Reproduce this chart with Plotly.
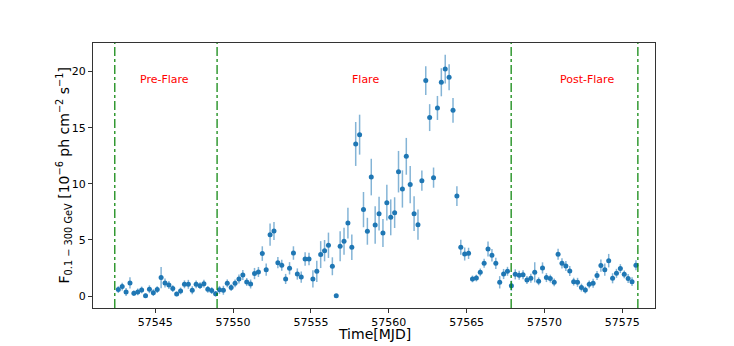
import plotly.graph_objects as go

# light curve, 6 h bins (MJD centres)
time_mjd = [
    57542.625, 57542.875,
    57543.125, 57543.375, 57543.625, 57543.875,
    57544.125, 57544.375, 57544.625, 57544.875,
    57545.125, 57545.375, 57545.625, 57545.875,
    57546.125, 57546.375, 57546.625, 57546.875,
    57547.125, 57547.375, 57547.625, 57547.875,
    57548.125, 57548.375, 57548.625, 57548.875,
    57549.125, 57549.375, 57549.625, 57549.875,
    57550.125, 57550.375, 57550.625, 57550.875,
    57551.125, 57551.375, 57551.625, 57551.875,
    57552.125, 57552.375, 57552.625, 57552.875,
    57553.125, 57553.375, 57553.625, 57553.875,
    57554.125, 57554.375, 57554.625, 57554.875,
    57555.125, 57555.375, 57555.625, 57555.875,
    57556.125, 57556.375, 57556.625, 57556.875,
    57557.125, 57557.375, 57557.625, 57557.875,
    57558.125, 57558.375, 57558.625, 57558.875,
    57559.125, 57559.375, 57559.625, 57559.875,
    57560.125, 57560.375, 57560.625, 57560.875,
    57561.125, 57561.375, 57561.625, 57561.875,
    57562.125, 57562.375, 57562.625, 57562.875,
    57563.125, 57563.375, 57563.625, 57563.875,
    57564.125, 57564.375, 57564.625, 57564.875,
    57565.125, 57565.375, 57565.625, 57565.875,
    57566.125, 57566.375, 57566.625, 57566.875,
    57567.125, 57567.375, 57567.625, 57567.875,
    57568.125, 57568.375, 57568.625, 57568.875,
    57569.125, 57569.375, 57569.625, 57569.875,
    57570.125, 57570.375, 57570.625, 57570.875,
    57571.125, 57571.375, 57571.625, 57571.875,
    57572.125, 57572.375, 57572.625, 57572.875,
    57573.125, 57573.375, 57573.625, 57573.875,
    57574.125, 57574.375, 57574.625, 57574.875,
    57575.125, 57575.375, 57575.625, 57575.875,
]

flux = [
    0.57, 0.84, 0.36, 1.16, 0.24, 0.36, 0.54, 0.03, 0.60, 0.30,
    0.57, 1.64, 1.16, 0.98, 0.66, 0.18, 0.45, 1.04, 1.04, 0.51,
    1.04, 0.92, 1.10, 0.60, 0.48, 0.20, 0.55, 0.51, 1.13, 0.75,
    1.13, 1.52, 1.87, 1.25, 1.07, 2.00, 2.14, 3.78, 2.35, 5.47,
    5.80, 2.97, 2.74, 1.52, 2.47, 3.83, 1.96, 1.69, 3.30, 3.30,
    1.52, 2.20, 3.69, 4.04, 4.52, 2.65, 0.03, 4.43, 4.88, 6.50,
    4.34, 13.55, 14.38, 7.70, 5.77, 10.60, 6.33, 7.34, 5.62, 8.32,
    7.01, 7.43, 11.08, 9.54, 12.45, 9.93, 7.34, 6.36, 10.28, 19.20,
    15.90, 10.55, 16.76, 19.05, 20.23, 19.49, 16.55, 8.91, 4.34, 3.74,
    3.80, 1.52, 1.60, 2.11, 2.91, 4.19, 3.63, 2.91, 1.22, 1.96,
    2.20, 0.92, 1.93, 1.84, 1.90, 1.43, 1.58, 2.11, 1.31, 2.50,
    1.64, 1.55, 1.22, 3.72, 2.91, 2.67, 2.23, 1.28, 1.22, 0.75,
    0.53, 1.04, 1.13, 1.82, 2.71, 2.35, 3.15, 1.58, 2.02, 2.44,
    1.93, 1.55, 1.28, 2.74,
]

flux_err = [
    0.30, 0.35, 0.35, 0.50, 0.25, 0.30, 0.30, 0.20, 0.35, 0.30,
    0.30, 0.95, 0.40, 0.35, 0.30, 0.20, 0.30, 0.35, 0.40, 0.35,
    0.35, 0.30, 0.35, 0.30, 0.30, 0.25, 0.35, 0.40, 0.35, 0.30,
    0.35, 0.40, 0.45, 0.35, 0.40, 0.50, 0.45, 0.65, 0.55, 1.00,
    0.80, 0.50, 0.50, 0.45, 0.55, 0.60, 0.50, 0.50, 0.60, 0.55,
    0.77, 0.95, 1.20, 0.95, 1.13, 0.80, 0.00, 1.33, 1.20, 1.37,
    1.14, 1.96, 1.78, 1.57, 1.20, 1.63, 1.68, 1.50, 1.25, 1.60,
    1.60, 1.37, 1.85, 1.66, 1.64, 1.66, 1.55, 1.34, 0.90, 1.28,
    1.20, 0.90, 1.07, 1.25, 1.28, 1.16, 1.10, 0.88, 0.67, 0.58,
    0.50, 0.30, 0.30, 0.35, 0.40, 0.67, 0.55, 0.50, 0.55, 0.45,
    0.40, 0.45, 0.45, 0.40, 0.40, 0.35, 0.40, 0.90, 0.35, 0.50,
    0.40, 0.35, 0.35, 0.50, 0.45, 0.45, 0.45, 0.35, 0.40, 0.35,
    0.30, 0.35, 0.40, 0.40, 0.55, 0.55, 0.60, 0.45, 0.40, 0.40,
    0.35, 0.40, 0.40, 0.45,
]

# state boundaries and labels
boundaries = [57542.4, 57548.97, 57567.86, 57576.0]
state_names = ["Pre-Flare", "Flare", "Post-Flare"]
state_x = [57545.6, 57558.5, 57572.7]
state_y = 19.3

fig = go.Figure()

fig.add_trace(go.Scatter(
    x=time_mjd, y=flux, mode="markers",
    marker=dict(color="#1f77b4", size=5),
    error_y=dict(type="data", array=flux_err, color="rgba(31,119,180,0.55)",
                 thickness=1.5, width=0),
    showlegend=False,
))

for b in boundaries:
    fig.add_shape(type="line", xref="x", yref="paper", x0=b, x1=b, y0=0, y1=1,
                  line=dict(color="green", width=1.2, dash="dashdot"))

for name, xs in zip(state_names, state_x):
    fig.add_annotation(x=xs, y=state_y, text=name, showarrow=False,
                       font=dict(color="red", size=11))

# axis titles as annotations so they sit as close as in the reference
fig.add_annotation(xref="paper", yref="paper", x=0.5, y=0, yshift=-26,
                   text="Time[MJD]", showarrow=False, yanchor="middle",
                   font=dict(size=14, color="black"))
fig.add_annotation(xref="paper", yref="paper", x=0, y=0.5, xshift=-29,
                   text="F<sub>0.1 \u2212 300 GeV</sub> [10<sup>\u22126</sup> ph cm<sup>\u22122</sup> s<sup>\u22121</sup>]",
                   textangle=-90, showarrow=False, xanchor="center",
                   font=dict(size=14, color="black"))

axis_style = dict(showline=True, linecolor="#333", linewidth=1, mirror=True,
                  ticks="outside", ticklen=4, tickcolor="#333", showgrid=False,
                  zeroline=False, automargin=False,
                  tickfont=dict(size=11, color="black"))

fig.update_xaxes(range=[57541.0, 57577.1], tickvals=[57545, 57550, 57555, 57560, 57565, 57570, 57575],
                 tickformat="d", **axis_style)
fig.update_yaxes(range=[-1.07, 22.55], tickvals=[0, 5, 10, 15, 20], **axis_style)

# page body adds a small offset, so margins are trimmed to land the axes box in place
fig.update_layout(width=734, height=346, margin=dict(l=85, r=87, t=35, b=46),
                  plot_bgcolor="white", paper_bgcolor="white",
                  font=dict(family="DejaVu Sans"))

fig.write_html("out.html")
